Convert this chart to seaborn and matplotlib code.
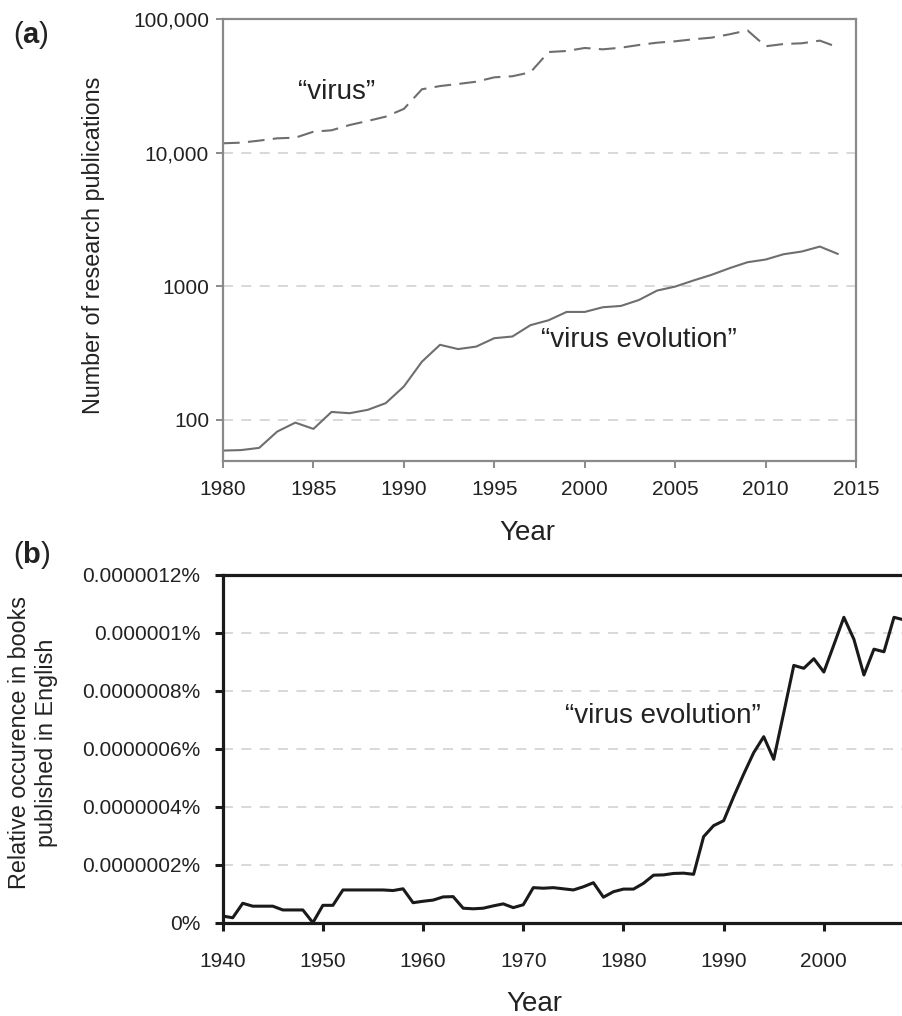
import numpy as np
import matplotlib
matplotlib.use("Agg")
import matplotlib.pyplot as plt
import pandas as pd
import seaborn as sns

#================= data =================
years_pub = list(range(1980, 2015))
virus = [11750, 11880, 12300, 12800, 12940, 14350, 14700, 16100, 17260, 18600,
         21250, 29800, 31500, 32650, 33950, 36600, 37300, 39900, 56600, 57650,
         60700, 59300, 61000, 63900, 66500, 68100, 70500, 72500, 76800, 82200,
         62500, 65000, 65800, 68900, 61400]
virus_evo = [59, 59.5, 61.8, 81.9, 95.5, 85.7, 114.8, 112.3, 119, 133.6,
             178, 273, 365, 339, 354, 409, 421, 512, 557, 643,
             643, 697, 713, 790, 929, 995, 1104, 1217, 1365, 1514,
             1585, 1738, 1820, 1983, 1746]
pub_yticks = [100, 1000, 10000, 100000]
pub_yticklabels = ["100", "1000", "10,000", "100,000"]
pub_xticks = [1980, 1985, 1990, 1995, 2000, 2005, 2010, 2015]

# books: relative occurrence, in units of 0.0000001 %
years_books = list(range(1940, 2009))
books = [0.23, 0.17, 0.67, 0.57, 0.57, 0.57, 0.44, 0.44, 0.44, 0.0,
         0.60, 0.60, 1.13, 1.13, 1.13, 1.13, 1.13, 1.11, 1.17, 0.69,
         0.74, 0.78, 0.89, 0.90, 0.50, 0.48, 0.50, 0.58, 0.65, 0.52,
         0.62, 1.21, 1.19, 1.21, 1.17, 1.13, 1.24, 1.38, 0.88, 1.07,
         1.16, 1.16, 1.36, 1.64, 1.65, 1.70, 1.71, 1.67, 2.97, 3.35,
         3.52, 4.35, 5.13, 5.87, 6.42, 5.64, 7.25, 8.88, 8.78, 9.11,
         8.65, 9.59, 10.54, 9.78, 8.55, 9.44, 9.35, 10.54, 10.45]
books_yticks = [0, 2, 4, 6, 8, 10, 12]
books_yticklabels = ["0%", "0.0000002%", "0.0000004%", "0.0000006%",
                     "0.0000008%", "0.000001%", "0.0000012%"]
books_xticks = [1940, 1950, 1960, 1970, 1980, 1990, 2000]

df_pub = pd.DataFrame({"Year": years_pub, "virus": virus, "virus evolution": virus_evo})
df_books = pd.DataFrame({"Year": years_books, "occ": books})

#================= style =================
sns.set_style("white")
plt.rcParams['font.family'] = ['Liberation Sans', 'DejaVu Sans']
plt.rcParams['mathtext.fontset'] = 'custom'
plt.rcParams['mathtext.rm'] = 'Liberation Sans'
plt.rcParams['mathtext.bf'] = 'Liberation Sans:bold'
tick_col = "#222222"

fig = plt.figure(figsize=(9.03, 10.16), dpi=100)
W, H = 903, 1016
ax1 = fig.add_axes([223 / W, 1 - 461 / H, (856 - 223) / W, (461 - 19) / H])
ax2 = fig.add_axes([222.7 / W, 1 - 922.7 / H, (903 - 222.7) / W, (922.7 - 575) / H])

#================= panel a =================
grey = "#6e6e6e"
sns.lineplot(data=df_pub, x="Year", y="virus", ax=ax1, color=grey, lw=1.5)
ax1.lines[-1].set_dashes((8, 4))
sns.lineplot(data=df_pub, x="Year", y="virus evolution", ax=ax1, color=grey, lw=1.5)
ax1.set_yscale("log")
ax1.set_ylim(49.3, 100000)
ax1.set_xlim(1980, 2015)
ax1.set_yticks(pub_yticks)
ax1.set_yticklabels(pub_yticklabels)
ax1.yaxis.set_minor_locator(matplotlib.ticker.NullLocator())
ax1.set_xticks(pub_xticks)
for y in pub_yticks[:-1]:
    ax1.axhline(y, color="#d2d2d2", lw=1.2, dashes=(6, 5), zorder=0)
for s in ax1.spines.values():
    s.set_color("#8a8a8a")
    s.set_linewidth(1.6)
ax1.tick_params(axis="both", which="major", direction="out", length=5, width=1.4,
                color="#8a8a8a", labelsize=15, labelcolor=tick_col,
                bottom=True, left=True)
ax1.tick_params(axis="x", pad=8.5)
ax1.tick_params(axis="y", pad=5)
ax1.set_xlabel("Year", fontsize=20, color=tick_col)
ax1.set_ylabel("Number of research publications", fontsize=16.8, color=tick_col)
ax1.xaxis.set_label_coords((527 - 223) / 633, (461 - 520) / 442)
ax1.yaxis.set_label_coords((105 - 223) / 633, (461 - 245) / 442)
ax1.text(1984.15, 25240, "\u201cvirus\u201d", fontsize=20, color=tick_col,
         ha="left", va="baseline")
ax1.text(1997.58, 350, "\u201cvirus evolution\u201d", fontsize=20, color=tick_col,
         ha="left", va="baseline")

#================= panel b =================
sns.lineplot(data=df_books, x="Year", y="occ", ax=ax2, color="#1a1a1a", lw=2.2)
ax2.set_xlim(1940, 2007.9)
ax2.set_ylim(0, 12)
ax2.set_yticks(books_yticks)
ax2.set_yticklabels(books_yticklabels)
ax2.set_xticks(books_xticks)
for y in books_yticks[1:-1]:
    ax2.axhline(y, color="#d2d2d2", lw=1.2, dashes=(6, 5), zorder=0)
ax2.spines["right"].set_visible(False)
for s in ["left", "top", "bottom"]:
    ax2.spines[s].set_color("#1a1a1a")
    ax2.spines[s].set_linewidth(2.3)
ax2.tick_params(axis="both", which="major", direction="out", length=5.5, width=2.2,
                color="#1a1a1a", labelsize=15, labelcolor=tick_col,
                bottom=True, left=True)
ax2.tick_params(axis="x", pad=15.5)
ax2.tick_params(axis="y", pad=10.5)
ax2.set_xlabel("Year", fontsize=20, color=tick_col)
ax2.set_ylabel("Relative occurence in books\npublished in English", fontsize=16.8,
               color=tick_col, linespacing=1.2)
ax2.xaxis.set_label_coords((534 - 222.7) / 680.3, (922.7 - 991) / 347.7)
ax2.yaxis.set_label_coords((58 - 222.7) / 680.3, (922.7 - 742.5) / 347.7)
ax2.text(1974.16, 6.88, "\u201cvirus evolution\u201d", fontsize=20, color=tick_col,
         ha="left", va="baseline")

# panel letters
fig.text(13 / W, 1 - 43 / H, "($\\bf{a}$)", fontsize=21, color=tick_col, va="baseline")
fig.text(13 / W, 1 - 563 / H, "($\\bf{b}$)", fontsize=21, color=tick_col, va="baseline")

fig.savefig("out.png", dpi=100)
